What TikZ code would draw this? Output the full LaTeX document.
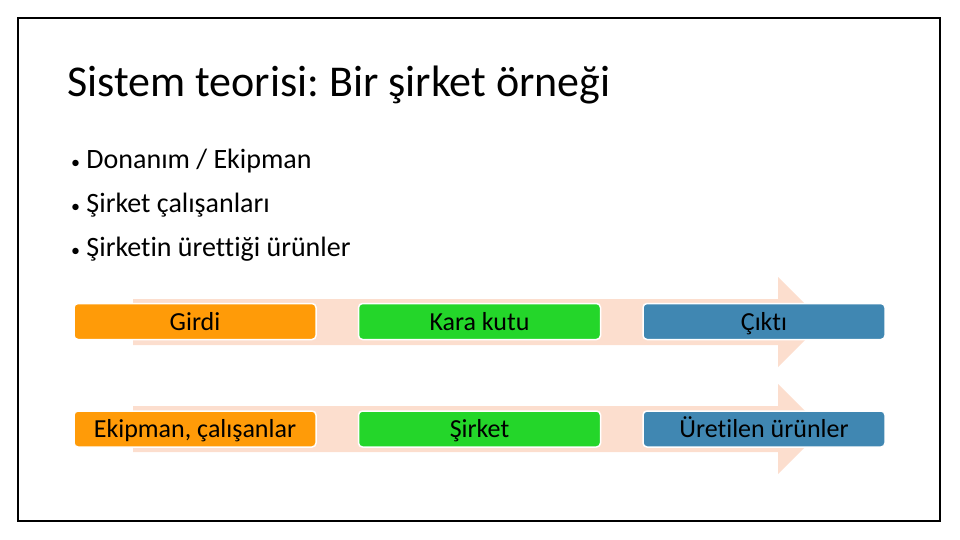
\documentclass[tikz,border=0pt]{standalone}
\usepackage{fontspec}
\setmainfont{Carlito}[Ligatures=NoCommon]
\frenchspacing
\usetikzlibrary{positioning}
\definecolor{girdiorange}{RGB}{255,155,8}
\definecolor{kutugreen}{RGB}{36,214,42}
\definecolor{ciktiblue}{RGB}{64,135,178}
\definecolor{flowpeach}{RGB}{252,222,206}
\tikzset{
    block/.style = {
        rectangle,
        rounded corners=4pt,
        minimum width=242pt,
        minimum height=36pt,
        inner sep=0pt,
        text height=21pt,
        text depth=4pt,
        text centered,
        draw=white,
        line width=1.5pt,
        font=\fontsize{26}{30}\selectfont,
    },
    girdi/.style = {
        block,
        fill=girdiorange,
    },
    kutu/.style = {
        block,
        fill=kutugreen,
    },
    cikti/.style = {
        block,
        fill=ciktiblue,
    },
    item/.style = {
        anchor=base west,
        inner sep=0pt,
        font=\fontsize{28}{32}\selectfont,
    },
}
\tikzstyle{flow} = [fill=flowpeach]

\begin{document}
\begin{tikzpicture}[x=1pt, y=-1pt]
        \useasboundingbox (0,0) rectangle (960,540);
        \draw [line width=2pt] (18,18) rectangle (940,521);

        \node(title) [anchor=base west, inner sep=0pt, font=\fontsize{44}{50}\selectfont] at (67,97)
        {Sistem teorisi: Bir şirket örneği};
        \node(donanim) [item] at (71,168)
        {{\fontsize{18}{20}\selectfont•} Donanım / Ekipman};
        \node(calisan) [item] at (71,212.5)
        {{\fontsize{18}{20}\selectfont•} Şirket çalışanları};
        \node(urun) [item] at (71,256.5)
        {{\fontsize{18}{20}\selectfont•} Şirketin ürettiği ürünler};

        \fill [flow] (133,299) -- (778,299) -- (778,277) -- (823,322) -- (778,367) -- (778,345) -- (133,345) -- cycle;
        \fill [flow] (133,406) -- (778,406) -- (778,384) -- (823,429) -- (778,474) -- (778,452) -- (133,452) -- cycle;

        \node(girdi) [girdi] at (195,321.5)
        {Girdi};
        \node(karakutu) [kutu, right = 41pt of girdi]
        {Kara kutu};
        \node(cikti) [cikti, right = 41pt of karakutu]
        {Çıktı};
        \node(ekipman) [girdi] at (195,429)
        {Ekipman, çalışanlar};
        \node(sirket) [kutu, right = 41pt of ekipman]
        {Şirket};
        \node(uretilen) [cikti, right = 41pt of sirket]
        {Üretilen ürünler};

    \end{tikzpicture}
\end{document}
